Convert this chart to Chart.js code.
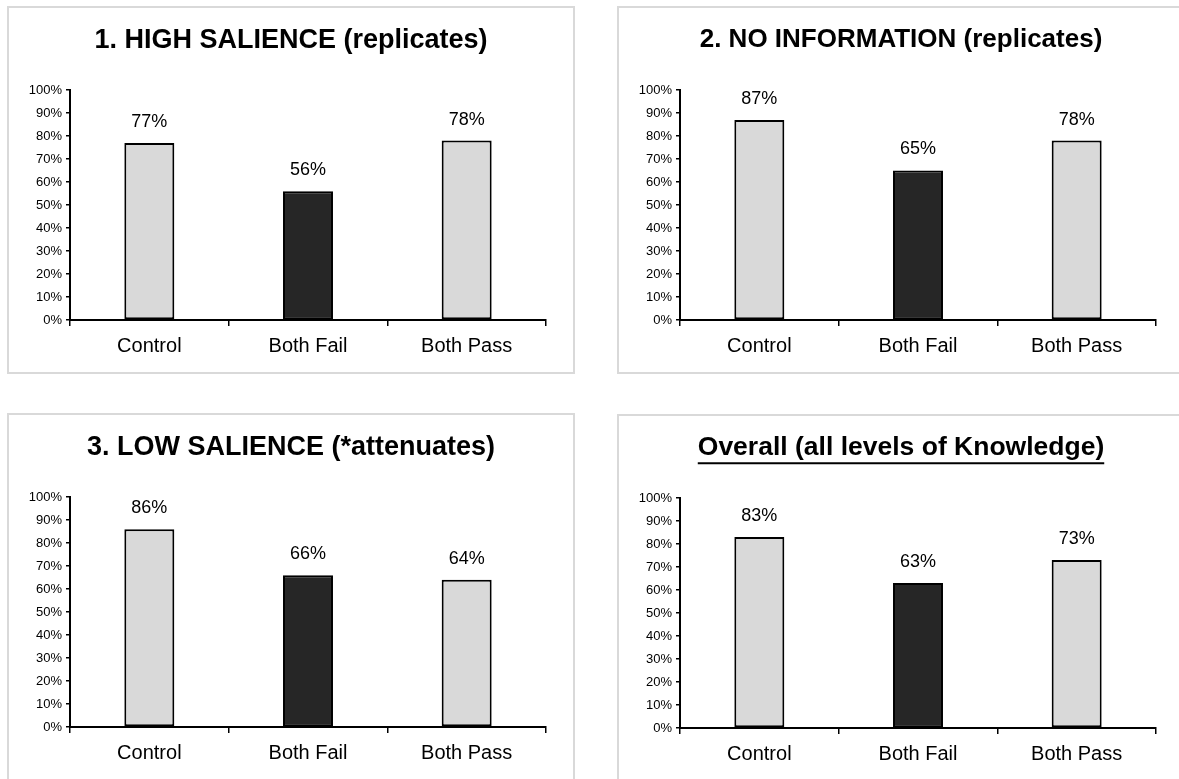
<!DOCTYPE html>
<html>
<head>
<meta charset="utf-8">
<script src="https://cdn.jsdelivr.net/npm/chart.js@4.4.0/dist/chart.umd.min.js"></script>
<style>
  html, body { margin: 0; padding: 0; background: #fff; overflow: hidden; }
  body { width: 1179px; height: 779px; position: relative; }
  .panel {
    position: absolute;
    width: 568px;
    height: 368px;
    box-sizing: border-box;
    border: 2px solid #d9d9d9;
    background: #fff;
  }
  .panel canvas { position: absolute; left: 0; top: 0; }
</style>
</head>
<body>
<div class="panel" style="left:7px; top:6px;"><canvas id="chart1" width="564" height="364"></canvas></div>
<div class="panel" style="left:617px; top:6px;"><canvas id="chart2" width="564" height="364"></canvas></div>
<div class="panel" style="left:7px; top:413px;"><canvas id="chart3" width="564" height="364"></canvas></div>
<div class="panel" style="left:617px; top:414px;"><canvas id="chart4" width="564" height="364"></canvas></div>

<script>
// Data (percent)
const categories = ['Control', 'Both Fail', 'Both Pass'];
const highSalience = [77, 56, 78];
const noInformation = [87, 65, 78];
const lowSalience = [86, 66, 64];
const overall = [83, 63, 73];

const titles = [
  '1. HIGH SALIENCE (replicates)',
  '2. NO INFORMATION (replicates)',
  '3. LOW SALIENCE (*attenuates)',
  'Overall (all levels of Knowledge)'
];
const barColors = ['#d9d9d9', '#262626', '#d9d9d9'];

const FONT = "'Liberation Sans', Arial, Helvetica, sans-serif";

// value labels above each bar
const valueLabels = {
  id: 'valueLabels',
  afterDatasetsDraw(chart) {
    const ctx = chart.ctx;
    const meta = chart.getDatasetMeta(0);
    ctx.save();
    ctx.font = '18px ' + FONT;
    ctx.fillStyle = '#000';
    ctx.textAlign = 'center';
    ctx.textBaseline = 'middle';
    meta.data.forEach((bar, i) => {
      const v = chart.data.datasets[0].data[i];
      ctx.fillText(v + '%', bar.x, bar.y - 21);
    });
    ctx.restore();
  }
};

// underline for the "Overall" title
const titleUnderline = {
  id: 'titleUnderline',
  afterDraw(chart, args, opts) {
    if (!opts.on) return;
    const tb = chart.titleBlock;
    const t = chart.options.plugins.title;
    const ctx = chart.ctx;
    ctx.save();
    ctx.font = 'bold ' + t.font.size + 'px ' + FONT;
    const w = ctx.measureText(t.text).width;
    const cx = tb.left + tb.width / 2;
    const y = tb.top + t.padding.top + t.font.size * 0.6 + t.font.size * 0.5 + 2;
    ctx.strokeStyle = '#000';
    ctx.lineWidth = 2;
    ctx.beginPath();
    ctx.moveTo(cx - w / 2, y);
    ctx.lineTo(cx + w / 2, y);
    ctx.stroke();
    ctx.restore();
  }
};

function makeChart(id, values, title, titleSize, underline) {
  return new Chart(document.getElementById(id), {
    type: 'bar',
    data: {
      labels: categories,
      datasets: [{
        data: values,
        backgroundColor: barColors,
        borderColor: '#000',
        borderWidth: 2,
        borderSkipped: false,
        categoryPercentage: 1,
        barPercentage: 0.315
      }]
    },
    options: {
      responsive: false,
      animation: false,
      layout: { padding: 0 },
      scales: {
        x: {
          grid: {
            offset: true,
            drawOnChartArea: false,
            drawTicks: true,
            tickLength: 6,
            color: '#000',
            lineWidth: 1.5
          },
          border: { display: true, color: '#000', width: 2 },
          ticks: {
            color: '#000',
            font: { family: FONT, size: 20 },
            padding: 8,
            maxRotation: 0
          },
          afterFit(scale) { scale.height = 52; }
        },
        y: {
          min: 0,
          max: 100,
          grid: {
            drawOnChartArea: false,
            drawTicks: true,
            tickLength: 4,
            color: '#000',
            lineWidth: 1.5
          },
          border: { display: true, color: '#000', width: 2 },
          ticks: {
            stepSize: 10,
            color: '#000',
            font: { family: FONT, size: 13 },
            padding: 4,
            callback: v => v + '%'
          },
          afterFit(scale) { scale.width = 61; }
        },
        // empty right-hand axis, only keeps the plot off the right edge
        yRight: {
          position: 'right',
          display: true,
          grid: { display: false, drawTicks: false },
          border: { display: false },
          ticks: { display: false },
          afterFit(scale) { scale.width = 27; }
        }
      },
      plugins: {
        legend: { display: false },
        tooltip: { enabled: false },
        title: {
          display: true,
          text: title,
          color: '#000',
          font: { family: FONT, size: titleSize, weight: 'bold', lineHeight: 1.2 },
          padding: { top: 16, bottom: 82 - 16 - titleSize * 1.2 }
        },
        titleUnderline: { on: underline }
      }
    },
    plugins: [valueLabels, titleUnderline]
  });
}

makeChart('chart1', highSalience, titles[0], 27, false);
makeChart('chart2', noInformation, titles[1], 26, false);
makeChart('chart3', lowSalience, titles[2], 27, false);
makeChart('chart4', overall, titles[3], 26.5, true);
</script>
</body>
</html>
